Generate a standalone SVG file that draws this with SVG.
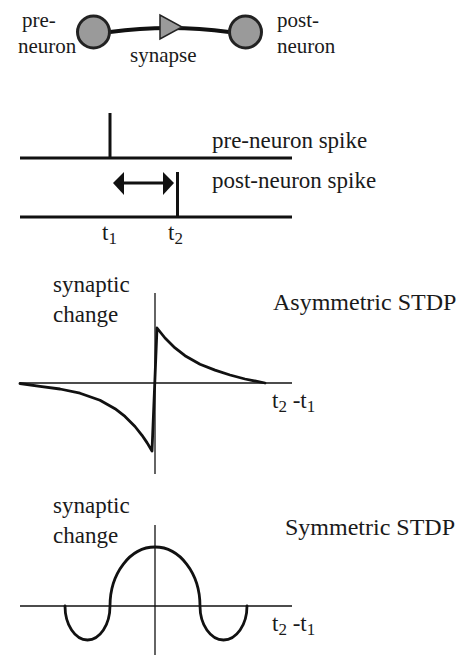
<svg xmlns="http://www.w3.org/2000/svg" width="457" height="655" viewBox="0 0 457 655">
<style>
text{font-family:"Liberation Serif","Times New Roman",serif;fill:#1a1a1a}
.lbl{font-size:21px}
.big{font-size:23px}
.title{font-size:24px}
.sub{font-size:17px}
.ln{stroke:#111;fill:none}
.axis{stroke:#111;stroke-width:1.3;fill:none}
.curve{stroke:#111;stroke-width:2.8;fill:none;stroke-linejoin:round;stroke-linecap:round}
.neuron{fill:#9a9a9a;stroke:#222;stroke-width:3}
</style>
<rect width="457" height="655" fill="#fff"/>
<g id="connectors">
<path class="ln" d="M110,32 Q170,24 229,32" stroke-width="4"/>
<polygon id="synapse-head" points="160,15 160,39 182,27" fill="#9a9a9a" stroke="#222" stroke-width="1.5"/>
</g>
<g id="pre-neuron">
<circle class="neuron" cx="93.5" cy="32" r="16"/>
<text class="lbl" x="22" y="27">pre-</text>
<text class="lbl" x="18" y="53">neuron</text>
</g>
<g id="post-neuron">
<circle class="neuron" cx="245.5" cy="32" r="16"/>
<text class="lbl" x="277" y="27">post-</text>
<text class="lbl" x="277" y="53">neuron</text>
</g>
<g id="synapse-label">
<text class="lbl" x="130" y="62">synapse</text>
</g>
<g id="spikes">
<line class="ln" x1="20" y1="158" x2="292" y2="158" stroke-width="3"/>
<line class="ln" x1="110" y1="113" x2="110" y2="158" stroke-width="3"/>
<line class="ln" x1="20" y1="217" x2="292" y2="217" stroke-width="3"/>
<line class="ln" x1="177.5" y1="172" x2="177.5" y2="217" stroke-width="3"/>
<line class="ln" x1="120" y1="183" x2="167" y2="183" stroke-width="3"/>
<polygon points="113,183 124,172 124,195" fill="#111"/>
<polygon points="174,183 163,172 163,195" fill="#111"/>
<text class="big" x="212" y="148">pre-neuron spike</text>
<text class="big" x="212" y="188">post-neuron spike</text>
<text class="big" x="102" y="240">t<tspan class="sub" dy="4">1</tspan></text>
<text class="big" x="168" y="240">t<tspan class="sub" dy="4">2</tspan></text>
</g>
<g id="asymmetric-stdp">
<line class="axis" x1="20" y1="383" x2="292" y2="383"/>
<line class="axis" x1="155" y1="293" x2="155" y2="474"/>
<path class="curve" d="M20,383.5 L40,386.3 L60,389 L80,393.2 L100,400.3 L115,408.7 L125,416.4 L135,426.5 L142,435.3 L147,442.6 L152,451 L157,328 L165,338 L175,347.9 L185,355.7 L200,364.2 L215,370.1 L230,375 L245,379 L265,383"/>
<text class="big" x="53" y="292">synaptic</text>
<text class="big" x="53" y="322">change</text>
<text class="title" x="273" y="310">Asymmetric STDP</text>
<text class="big" x="272" y="408">t<tspan class="sub" dy="4">2</tspan><tspan dy="-4"> -</tspan>t<tspan class="sub" dy="4">1</tspan></text>
</g>
<g id="symmetric-stdp">
<line class="axis" x1="20" y1="606" x2="292" y2="606"/>
<line class="axis" x1="155" y1="525" x2="155" y2="655"/>
<path class="curve" d="M65,606 A22.5,34 0 0 0 110,606 A45,59 0 0 1 200,606 A23.5,34 0 0 0 247,606"/>
<text class="big" x="53" y="513">synaptic</text>
<text class="big" x="53" y="543">change</text>
<text class="title" x="285" y="535">Symmetric STDP</text>
<text class="big" x="272" y="631">t<tspan class="sub" dy="4">2</tspan><tspan dy="-4"> -</tspan>t<tspan class="sub" dy="4">1</tspan></text>
</g>
</svg>
